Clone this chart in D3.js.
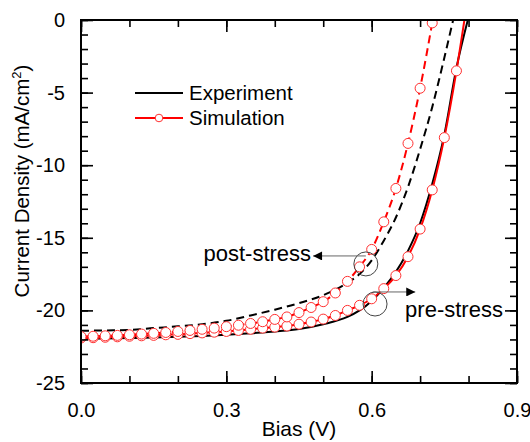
<!DOCTYPE html>
<html>
<head>
<meta charset="utf-8">
<script src="https://cdn.jsdelivr.net/npm/d3@7"></script>
<style>
  body { margin: 0; background: #fff; }
  svg { display: block; font-family: "Liberation Sans", Arial, sans-serif; }
</style>
</head>
<body>
<div id="container"></div>
<script>
// experiment, pre-stress (solid black)
var expPreBias = [0, 0.05, 0.1, 0.15, 0.2, 0.25, 0.3, 0.35, 0.4, 0.45, 0.5, 0.55, 0.575, 0.6, 0.625, 0.65, 0.675, 0.7, 0.725, 0.75, 0.775, 0.8];
var expPreJ = [-21.95, -21.93, -21.9, -21.86, -21.82, -21.76, -21.68, -21.58, -21.45, -21.28, -20.95, -20.45, -20.0, -19.35, -18.45, -17.35, -15.9, -14.0, -11.3, -7.9, -3.3, 0.2];

// experiment, post-stress (dashed black)
var expPostBias = [0, 0.05, 0.1, 0.15, 0.2, 0.25, 0.3, 0.35, 0.4, 0.45, 0.5, 0.55, 0.575, 0.6, 0.625, 0.65, 0.675, 0.7, 0.725, 0.75, 0.775];
var expPostJ = [-21.4, -21.38, -21.35, -21.22, -21.1, -20.95, -20.72, -20.35, -19.95, -19.5, -18.95, -18.1, -17.5, -16.55, -15.2, -13.6, -11.5, -8.9, -6.0, -2.6, 1.0];

// simulation, pre-stress (solid red + circles)
var simPreBias = [0, 0.025, 0.05, 0.075, 0.1, 0.125, 0.15, 0.175, 0.2, 0.225, 0.25, 0.275, 0.3, 0.325, 0.35, 0.375, 0.4, 0.425, 0.45, 0.475, 0.5, 0.525, 0.55, 0.575, 0.6, 0.625, 0.65, 0.675, 0.7, 0.725, 0.75, 0.775, 0.8];
var simPreJ = [-21.9, -21.88, -21.85, -21.82, -21.78, -21.75, -21.72, -21.68, -21.65, -21.6, -21.55, -21.5, -21.45, -21.38, -21.3, -21.22, -21.15, -21.08, -20.95, -20.8, -20.6, -20.35, -20.0, -19.65, -19.2, -18.5, -17.6, -16.3, -14.4, -11.7, -8.1, -3.5, 1.9];

// simulation, post-stress (dashed red + circles)
var simPostBias = [0, 0.025, 0.05, 0.075, 0.1, 0.125, 0.15, 0.175, 0.2, 0.225, 0.25, 0.275, 0.3, 0.325, 0.35, 0.375, 0.4, 0.425, 0.45, 0.475, 0.5, 0.525, 0.55, 0.575, 0.6, 0.625, 0.65, 0.675, 0.7, 0.725];
var simPostJ = [-21.8, -21.78, -21.75, -21.72, -21.68, -21.63, -21.58, -21.52, -21.45, -21.38, -21.3, -21.22, -21.12, -21.02, -20.9, -20.78, -20.62, -20.45, -20.15, -19.8, -19.4, -18.8, -18.0, -17.0, -15.8, -13.9, -11.6, -8.5, -4.7, -0.2];

var xTicks = [0, 0.3, 0.6, 0.9];
var xTickLabels = ['0.0', '0.3', '0.6', '0.9'];
var yTicks = [0, -5, -10, -15, -20, -25];

var W = 530, H = 442;
var margin = {left: 81, top: 20, right: 13, bottom: 59};
var pw = W - margin.left - margin.right,
    ph = H - margin.top - margin.bottom;

var svg = d3.select('#container').append('svg')
  .attr('width', W).attr('height', H);

var x = d3.scaleLinear().domain([0, 0.9]).range([0, pw]);
var y = d3.scaleLinear().domain([-25, 0]).range([ph, 0]);

var g = svg.append('g').attr('transform', 'translate(' + margin.left + ',' + margin.top + ')');

svg.append('defs').append('clipPath').attr('id', 'clip')
  .append('rect').attr('width', pw).attr('height', ph);

function zipped(bx, by) {
  return bx.map(function(v, i) { return [v, by[i]]; });
}

var line = d3.line()
  .x(function(d) { return x(d[0]); })
  .y(function(d) { return y(d[1]); })
  .curve(d3.curveMonotoneX);

var plot = g.append('g').attr('clip-path', 'url(#clip)');

plot.append('path').datum(zipped(expPreBias, expPreJ))
  .attr('d', line).attr('fill', 'none').attr('stroke', '#000').attr('stroke-width', 2);
plot.append('path').datum(zipped(expPostBias, expPostJ))
  .attr('d', line).attr('fill', 'none').attr('stroke', '#000').attr('stroke-width', 2)
  .attr('stroke-dasharray', '8,5');

plot.append('path').datum(zipped(simPreBias, simPreJ))
  .attr('d', line).attr('fill', 'none').attr('stroke', '#ff0000').attr('stroke-width', 2);
plot.append('path').datum(zipped(simPostBias, simPostJ))
  .attr('d', line).attr('fill', 'none').attr('stroke', '#ff0000').attr('stroke-width', 2)
  .attr('stroke-dasharray', '8,5');

[zipped(simPreBias, simPreJ), zipped(simPostBias, simPostJ)].forEach(function(s) {
  plot.append('g').selectAll('circle').data(s).enter().append('circle')
    .attr('cx', function(d) { return x(d[0]); })
    .attr('cy', function(d) { return y(d[1]); })
    .attr('r', 5)
    .attr('fill', '#fff')
    .attr('stroke', '#ff3030')
    .attr('stroke-width', 1);
});

// axes (all ticks inward, mirrored)
function drawAxis(axis, tr) {
  var ag = g.append('g').attr('transform', tr).call(axis);
  ag.select('.domain').remove();
  ag.selectAll('line').attr('stroke', '#000').attr('stroke-width', 1.6);
  return ag;
}
var xMinor = d3.range(0, 0.91, 0.1);
var yMinor = d3.range(-25, 0.1, 1);

drawAxis(d3.axisBottom(x).tickValues(xMinor).tickSize(-7).tickFormat(''), 'translate(0,' + ph + ')');
drawAxis(d3.axisTop(x).tickValues(xMinor).tickSize(-7).tickFormat(''), 'translate(0,0)');
drawAxis(d3.axisLeft(y).tickValues(yMinor).tickSize(-7).tickFormat(''), 'translate(0,0)');
drawAxis(d3.axisRight(y).tickValues(yMinor).tickSize(-7).tickFormat(''), 'translate(' + pw + ',0)');

var xb = drawAxis(d3.axisBottom(x).tickValues(xTicks).tickSize(-12).tickPadding(20)
  .tickFormat(function(d, i) { return xTickLabels[i]; }), 'translate(0,' + ph + ')');
drawAxis(d3.axisTop(x).tickValues(xTicks).tickSize(-12).tickFormat(''), 'translate(0,0)');
var yl = drawAxis(d3.axisLeft(y).tickValues(yTicks).tickSize(-12).tickPadding(16)
  .tickFormat(d3.format('d')), 'translate(0,0)');
drawAxis(d3.axisRight(y).tickValues(yTicks).tickSize(-12).tickFormat(''), 'translate(' + pw + ',0)');

xb.selectAll('text').attr('font-size', 20).attr('fill', '#000').attr('font-family', null);
yl.selectAll('text').attr('font-size', 20).attr('fill', '#000').attr('font-family', null)
  .text(function(d) { return d === 0 ? '0' : '-' + Math.abs(d); });

g.append('rect').attr('width', pw).attr('height', ph)
  .attr('fill', 'none').attr('stroke', '#000').attr('stroke-width', 2);

// axis titles
g.append('text').attr('x', pw / 2).attr('y', ph + 53)
  .attr('text-anchor', 'middle').attr('font-size', 21).text('Bias (V)');

var yt = svg.append('text')
  .attr('transform', 'translate(29,181) rotate(-90)')
  .attr('text-anchor', 'middle').attr('font-size', 20.5);
yt.append('tspan').text('Current Density (mA/cm');
yt.append('tspan').attr('font-size', 13).attr('dy', -8).text('2');
yt.append('tspan').attr('dy', 8).text(')');

// legend
var leg = g.append('g').attr('transform', 'translate(54,73)');
leg.append('line').attr('x1', 0).attr('x2', 48).attr('stroke', '#000').attr('stroke-width', 2);
leg.append('text').attr('x', 54).attr('y', 7).attr('font-size', 20.5).text('Experiment');
leg.append('line').attr('x1', 0).attr('x2', 48).attr('y1', 25).attr('y2', 25)
  .attr('stroke', '#ff0000').attr('stroke-width', 2);
leg.append('circle').attr('cx', 24).attr('cy', 25).attr('r', 3.8)
  .attr('fill', '#fff').attr('stroke', '#ff3030').attr('stroke-width', 1);
leg.append('text').attr('x', 54).attr('y', 32).attr('font-size', 20.5).text('Simulation');

// annotations
var defs = svg.select('defs');
defs.append('marker').attr('id', 'arrow').attr('viewBox', '0 0 10 10')
  .attr('refX', 10).attr('refY', 5).attr('markerWidth', 10).attr('markerHeight', 9)
  .attr('markerUnits', 'userSpaceOnUse').attr('orient', 'auto')
  .append('path').attr('d', 'M0,0L10,5L0,10Z').attr('fill', '#000');

var notes = [
  {label: 'post-stress', cx: 0.588, cy: -16.8, from: 0.588, to: 0.479, ay: -16.25, anchor: 'end', tx: 0.475, ty: -16.6},
  {label: 'pre-stress', cx: 0.607, cy: -19.56, from: 0.602, to: 0.69, ay: -18.73, anchor: 'start', tx: 0.669, ty: -20.48}
];
notes.forEach(function(n) {
  g.append('circle').attr('cx', x(n.cx)).attr('cy', y(n.cy)).attr('r', 12)
    .attr('fill', 'none').attr('stroke', '#444').attr('stroke-width', 1);
  g.append('line').attr('x1', x(n.from)).attr('x2', x(n.to))
    .attr('y1', y(n.ay)).attr('y2', y(n.ay))
    .attr('stroke', '#666').attr('stroke-width', 1).attr('marker-end', 'url(#arrow)');
  g.append('text').attr('x', x(n.tx)).attr('y', y(n.ty))
    .attr('text-anchor', n.anchor).attr('font-size', 22).text(n.label);
});
</script>
</body>
</html>
